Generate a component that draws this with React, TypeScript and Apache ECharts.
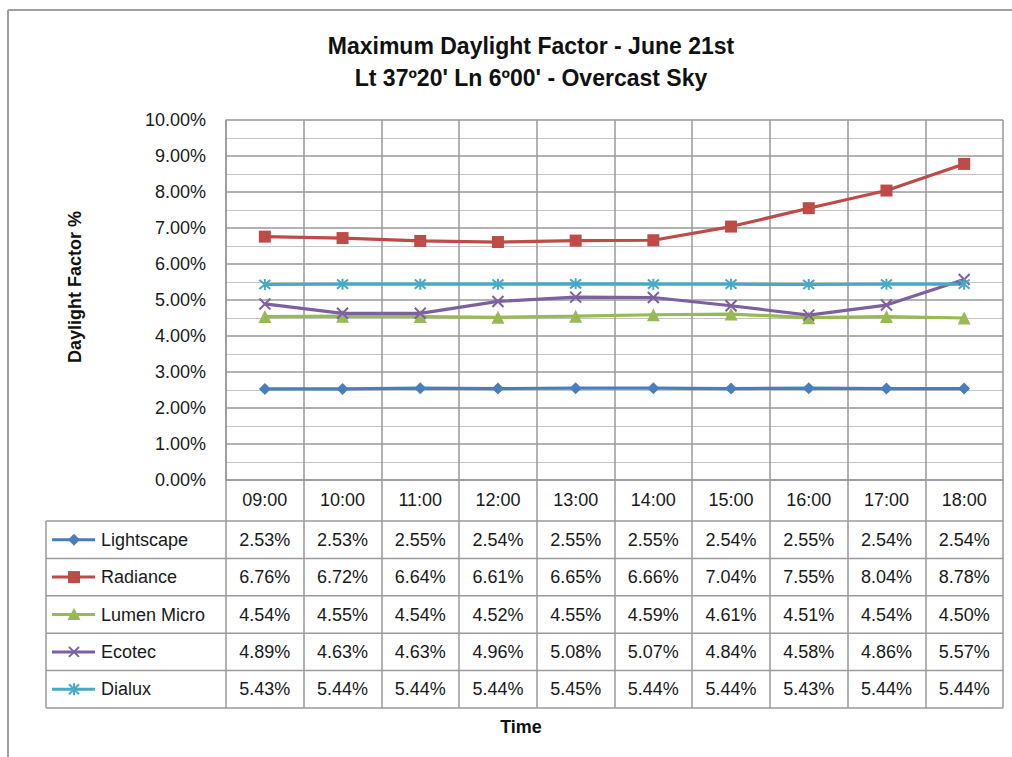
import React, { useEffect, useRef } from "react";
import * as echarts from "echarts";

const categories = ["09:00", "10:00", "11:00", "12:00", "13:00", "14:00", "15:00", "16:00", "17:00", "18:00"];
const seriesNames = ["Lightscape", "Radiance", "Lumen Micro", "Ecotec", "Dialux"];
const lightscape = [2.53, 2.53, 2.55, 2.54, 2.55, 2.55, 2.54, 2.55, 2.54, 2.54];
const radiance = [6.76, 6.72, 6.64, 6.61, 6.65, 6.66, 7.04, 7.55, 8.04, 8.78];
const lumenMicro = [4.54, 4.55, 4.54, 4.52, 4.55, 4.59, 4.61, 4.51, 4.54, 4.5];
const ecotec = [4.89, 4.63, 4.63, 4.96, 5.08, 5.07, 4.84, 4.58, 4.86, 5.57];
const dialux = [5.43, 5.44, 5.44, 5.44, 5.45, 5.44, 5.44, 5.43, 5.44, 5.44];
const yTicks = [0, 1, 2, 3, 4, 5, 6, 7, 8, 9, 10];
const titleLines = ["Maximum Daylight Factor - June 21st", "Lt 37º20' Ln 6º00' - Overcast Sky"];
const yAxisTitle = "Daylight Factor %";
const xAxisTitle = "Time";

const seriesData = [lightscape, radiance, lumenMicro, ecotec, dialux];
const colors = ["#4A7EBB", "#BE4B48", "#98B954", "#7D60A0", "#46AAC5"];
const X_PATH = "path://M0 0L10 10M10 0L0 10";
const STAR_PATH = "path://M0 0L10 10M10 0L0 10M5 -1L5 11";
const symbols = ["diamond", "rect", "triangle", X_PATH, STAR_PATH];
const symbolSizes = [12, 12, 13, 11, 11];

const FONT = "'Liberation Sans', Arial, sans-serif";
const FS = 18;
const GRID = { left: 226, top: 120, width: 777, height: 360 };
const TABLE_LEFT = 46;
const HEADER_BOTTOM = 521;
const ROW_H = 37.4;

export default function App() {
  const ref = useRef<HTMLDivElement>(null);
  useEffect(() => {
    if (!ref.current) return;
    const chart = echarts.init(ref.current, null, { renderer: "svg" });
    const colW = GRID.width / categories.length;
    const gridRight = GRID.left + GRID.width;
    const tableBottom = HEADER_BOTTOM + ROW_H * seriesNames.length;
    const lineColor = "#9a9a9a";

    const graphics: any[] = [];
    // outer chart frame
    graphics.push({ type: "line", shape: { x1: 8, y1: 10, x2: 1012, y2: 10 }, style: { stroke: "#a0a0a0", lineWidth: 2 } });
    graphics.push({ type: "line", shape: { x1: 8, y1: 10, x2: 8, y2: 757 }, style: { stroke: "#a0a0a0", lineWidth: 2 } });
    // title
    titleLines.forEach((t, i) => {
      graphics.push({ type: "text", x: 531, y: 46 + i * 32, style: { text: t, font: `bold 23px ${FONT}`, fill: "#111", align: "center", verticalAlign: "middle" } });
    });
    // y axis title
    graphics.push({ type: "text", x: 75, y: 287, rotation: Math.PI / 2, style: { text: yAxisTitle, font: `bold ${FS}px ${FONT}`, fill: "#111", align: "center", verticalAlign: "middle" } });
    // table horizontal lines
    for (let r = 0; r <= seriesNames.length; r++) {
      const y = HEADER_BOTTOM + ROW_H * r;
      graphics.push({ type: "line", shape: { x1: TABLE_LEFT, y1: y, x2: gridRight, y2: y }, style: { stroke: lineColor, lineWidth: 1.5 } });
    }
    graphics.push({ type: "line", shape: { x1: TABLE_LEFT, y1: HEADER_BOTTOM, x2: TABLE_LEFT, y2: tableBottom }, style: { stroke: lineColor, lineWidth: 1.5 } });
    // table content
    seriesNames.forEach((name, r) => {
      const cy = HEADER_BOTTOM + ROW_H * (r + 0.5);
      const c = colors[r];
      graphics.push({ type: "line", shape: { x1: 52, y1: cy, x2: 95, y2: cy }, style: { stroke: c, lineWidth: 3 } });
      const mx = 74;
      if (r === 0) {
        graphics.push({ type: "polygon", shape: { points: [[mx, cy - 6], [mx + 6, cy], [mx, cy + 6], [mx - 6, cy]] }, style: { fill: c } });
      } else if (r === 1) {
        graphics.push({ type: "rect", shape: { x: mx - 6, y: cy - 6, width: 12, height: 12 }, style: { fill: c } });
      } else if (r === 2) {
        graphics.push({ type: "polygon", shape: { points: [[mx, cy - 6.5], [mx + 6.5, cy + 5.5], [mx - 6.5, cy + 5.5]] }, style: { fill: c } });
      } else {
        graphics.push({ type: "line", shape: { x1: mx - 5, y1: cy - 5, x2: mx + 5, y2: cy + 5 }, style: { stroke: c, lineWidth: 2 } });
        graphics.push({ type: "line", shape: { x1: mx + 5, y1: cy - 5, x2: mx - 5, y2: cy + 5 }, style: { stroke: c, lineWidth: 2 } });
        if (r === 4) {
          graphics.push({ type: "line", shape: { x1: mx, y1: cy - 6, x2: mx, y2: cy + 6 }, style: { stroke: c, lineWidth: 2 } });
        }
      }
      graphics.push({ type: "text", x: 101, y: cy, style: { text: name, font: `${FS}px ${FONT}`, fill: "#1a1a1a", verticalAlign: "middle", align: "left" } });
      seriesData[r].forEach((v, i) => {
        graphics.push({
          type: "text",
          x: GRID.left + colW * (i + 0.5),
          y: cy,
          style: { text: v.toFixed(2) + "%", font: `${FS}px ${FONT}`, fill: "#1a1a1a", align: "center", verticalAlign: "middle" },
        });
      });
    });
    graphics.push({ type: "text", x: 521, y: 727, style: { text: xAxisTitle, font: `bold ${FS}px ${FONT}`, fill: "#111", align: "center", verticalAlign: "middle" } });

    chart.setOption({
      animation: false,
      backgroundColor: "#ffffff",
      grid: { ...GRID, containLabel: false },
      xAxis: {
        type: "category",
        data: categories,
        boundaryGap: true,
        axisLine: { show: true, lineStyle: { color: lineColor, width: 1.5 } },
        axisTick: { show: true, length: tableBottom - (GRID.top + GRID.height), lineStyle: { color: lineColor, width: 1.5 } },
        axisLabel: { show: true, margin: 11, fontFamily: FONT, fontSize: FS, color: "#1a1a1a", interval: 0 },
        splitLine: { show: true, interval: 0, lineStyle: { color: lineColor, width: 1.5 } },
      },
      yAxis: {
        type: "value",
        min: yTicks[0],
        max: yTicks[yTicks.length - 1],
        interval: 1,
        axisLine: { show: true, lineStyle: { color: lineColor, width: 1.5 } },
        axisTick: { show: false },
        axisLabel: { fontFamily: FONT, fontSize: FS, color: "#1a1a1a", margin: 20, formatter: (v: number) => v.toFixed(2) + "%" },
        splitLine: { show: true, lineStyle: { color: "#9a9a9a", width: 1.5 } },
        minorTick: { show: false, splitNumber: 2 },
        minorSplitLine: { show: true, lineStyle: { color: "#c4c4c4", width: 1.2 } },
      },
      series: seriesNames.map((name, r) => {
        const isStroke = r >= 3;
        return {
          name,
          type: "line",
          data: seriesData[r],
          symbol: symbols[r],
          symbolSize: symbolSizes[r],
          showSymbol: true,
          lineStyle: { color: colors[r], width: 3.2 },
          itemStyle: isStroke
            ? { color: "rgba(0,0,0,0)", borderColor: colors[r], borderWidth: 2 }
            : { color: colors[r], borderWidth: 0 },
          z: 3,
        };
      }),
      graphic: graphics,
    });
    return () => chart.dispose();
  }, []);
  return <div ref={ref} style={{ position: "fixed", left: 0, top: 0, width: 1012, height: 757 }} />;
}
